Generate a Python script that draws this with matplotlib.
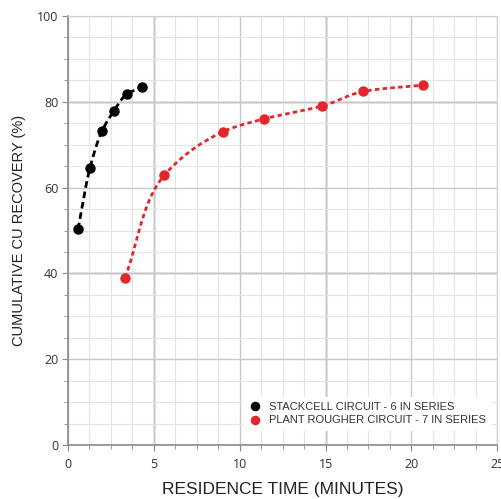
import numpy as np
import matplotlib.pyplot as plt
from matplotlib.ticker import MultipleLocator

# Data
stack_time = [0.58, 1.28, 1.98, 2.68, 3.44, 4.31]
stack_rec = [50.3, 64.6, 73.2, 77.9, 81.8, 83.4]
plant_time = [3.32, 5.61, 9.01, 11.40, 14.80, 17.21, 20.69]
plant_rec = [39.0, 62.9, 73.0, 76.0, 79.0, 82.4, 83.9]

stack_label = 'STACKCELL CIRCUIT - 6 IN SERIES'
plant_label = 'PLANT ROUGHER CIRCUIT - 7 IN SERIES'
red = '#e3262b'


def smooth(x, y, n=40):
    # centripetal Catmull-Rom, like a spreadsheet "smoothed line"
    p = np.column_stack([x, y]).astype(float)
    p = np.vstack([2 * p[0] - p[1], p, 2 * p[-1] - p[-2]])
    segs = []
    for i in range(1, len(p) - 2):
        p0, p1, p2, p3 = p[i - 1], p[i], p[i + 1], p[i + 2]
        t0 = 0.0
        t1 = t0 + np.linalg.norm(p1 - p0) ** 0.5
        t2 = t1 + np.linalg.norm(p2 - p1) ** 0.5
        t3 = t2 + np.linalg.norm(p3 - p2) ** 0.5
        t = np.linspace(t1, t2, n)[:, None]
        a1 = (t1 - t) / (t1 - t0) * p0 + (t - t0) / (t1 - t0) * p1
        a2 = (t2 - t) / (t2 - t1) * p1 + (t - t1) / (t2 - t1) * p2
        a3 = (t3 - t) / (t3 - t2) * p2 + (t - t2) / (t3 - t2) * p3
        b1 = (t2 - t) / (t2 - t0) * a1 + (t - t0) / (t2 - t0) * a2
        b2 = (t3 - t) / (t3 - t1) * a2 + (t - t1) / (t3 - t1) * a3
        segs.append((t2 - t) / (t2 - t1) * b1 + (t - t1) / (t2 - t1) * b2)
    s = np.vstack(segs)
    return s[:, 0], s[:, 1]


plt.rcParams['font.family'] = ['Open Sans', 'DejaVu Sans']
fig = plt.figure(figsize=(5.02, 4.99), dpi=100)
ax = fig.add_axes([0.1355, 0.108, 0.855, 0.86])

ax.set_xlim(0, 25)
ax.set_ylim(0, 100)
ax.xaxis.set_major_locator(MultipleLocator(5))
ax.xaxis.set_minor_locator(MultipleLocator(1.25))
ax.yaxis.set_major_locator(MultipleLocator(20))
ax.yaxis.set_minor_locator(MultipleLocator(5))

ax.grid(which='minor', color='#e4e4e4', lw=0.8)
ax.grid(which='major', color='#c8c8c8', lw=1.0)
for v in [5, 15]:
    ax.axvline(v, color='#8a8a8a', lw=1.0, zorder=0.5)
for v in [40, 80]:
    ax.axhline(v, color='#8a8a8a', lw=1.0, zorder=0.5)
ax.set_axisbelow(True)

for side in ['top', 'right']:
    ax.spines[side].set_color('#d0d0d0')
for side in ['left', 'bottom']:
    ax.spines[side].set_color('#8a8a8a')
    ax.spines[side].set_linewidth(1.2)
ax.tick_params(which='both', direction='out', color='#8a8a8a', labelsize=9,
               labelcolor='#333333')
ax.tick_params(which='major', length=4)
ax.tick_params(axis='y', which='major', pad=3)
ax.tick_params(axis='x', which='major', pad=5)
ax.tick_params(which='minor', length=3)

sx, sy = smooth(stack_time, stack_rec)
ax.plot(sx, sy, color='black', lw=2, dashes=(2.4, 1.4))
ax.plot(stack_time, stack_rec, 'o', color='black', ms=6.5, label=stack_label)

px, py = smooth(plant_time, plant_rec)
ax.plot(px, py, color=red, lw=2, dashes=(1.6, 1.2))
ax.plot(plant_time, plant_rec, 'o', color=red, ms=6.5, label=plant_label)

ax.set_xlabel('RESIDENCE TIME (MINUTES)', family='Liberation Sans', fontsize=12.5,
              color='#222222', labelpad=8)
ax.set_ylabel('CUMULATIVE CU RECOVERY (%)', family='Liberation Sans', fontsize=10.5,
              color='#222222', labelpad=8)

leg = ax.legend(loc='lower right', bbox_to_anchor=(1.0, 0.02), frameon=True,
                fancybox=False, edgecolor='none', framealpha=1,
                prop={'family': 'Liberation Sans', 'size': 8},
                handletextpad=0.7, handlelength=1.2, labelspacing=0.3,
                borderpad=0.5, markerscale=0.9)
for t in leg.get_texts():
    t.set_color('#333333')

plt.savefig('out.png', dpi=100)
plt.close()
